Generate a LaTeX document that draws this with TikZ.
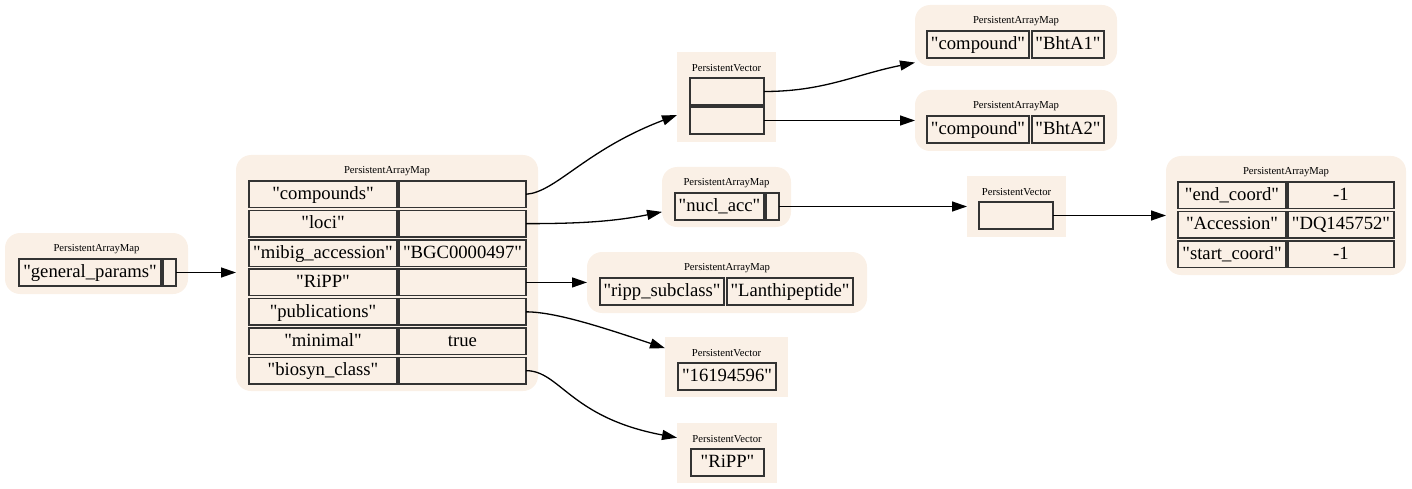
\documentclass[tikz,border=0pt]{standalone}
\usepackage{fontspec}
\setmainfont{Liberation Serif}[Ligatures=TeXOff]
\usetikzlibrary{arrows.meta}
\definecolor{linen}{HTML}{FAF0E6}
\newcommand{\cellt}[6]{\node[cell, minimum width={#4-#2}, minimum height={#5-#3}] (#1) at ({(#2+#4)/2},{(#3+#5)/2}) {#6};}
\newcommand{\pam}[5]{\node[mapbg, minimum width={#4-#2}, minimum height={#5-#3}] (#1) at ({(#2+#4)/2},{(#3+#5)/2}) {}; \node[tag] (#1-t) at ([yshift=-16.5pt]#1.north) {PersistentArrayMap};}
\newcommand{\pvec}[5]{\node[vecbg, minimum width={#4-#2}, minimum height={#5-#3}] (#1) at ({(#2+#4)/2},{(#3+#5)/2}) {}; \node[tag] (#1-t) at ([yshift=-16.5pt]#1.north) {PersistentVector};}

\begin{document}
\begin{tikzpicture}[x=1pt, y=-1pt,
    cell/.style={draw=black!80, line width=1.5pt, fill=linen, inner sep=0pt, outer sep=0pt, text height=14pt, text depth=3.5pt, font=\fontsize{18.67}{20}\selectfont},
    mapbg/.style={fill=linen, rounded corners=15pt, inner sep=0pt, outer sep=0pt},
    vecbg/.style={fill=linen, inner sep=0pt, outer sep=0pt},
    tag/.style={font=\fontsize{10.67}{12}\selectfont, inner sep=0pt},
    edge/.style={-{Triangle[length=15pt,width=10pt]}, line width=1.3pt}]
        \useasboundingbox (0,0) rectangle (1412,489);
        % general params
        \pam{gp}{5}{233}{188}{294}
        \cellt{gpk}{19}{259}{161}{286}{"general\_params"}
        \cellt{gpv}{163}{259}{176}{286}{}
        % root map
        \pam{root}{236}{155}{538}{391}
        \cellt{r1k}{249}{181}{397}{207.5}{"compounds"}
        \cellt{r1v}{399}{181}{526}{207.5}{}
        \cellt{r2k}{249}{210.4}{397}{236.9}{"loci"}
        \cellt{r2v}{399}{210.4}{526}{236.9}{}
        \cellt{r3k}{249}{239.8}{397}{266.3}{"mibig\_accession"}
        \cellt{r3v}{399}{239.8}{526}{266.3}{"BGC0000497"}
        \cellt{r4k}{249}{269.2}{397}{295.7}{"RiPP"}
        \cellt{r4v}{399}{269.2}{526}{295.7}{}
        \cellt{r5k}{249}{298.6}{397}{325.1}{"publications"}
        \cellt{r5v}{399}{298.6}{526}{325.1}{}
        \cellt{r6k}{249}{328}{397}{354.5}{"minimal"}
        \cellt{r6v}{399}{328}{526}{354.5}{true}
        \cellt{r7k}{249}{357.4}{397}{383.9}{"biosyn\_class"}
        \cellt{r7v}{399}{357.4}{526}{383.9}{}
        % compounds
        \pvec{pvcomp}{677}{52}{776}{142}
        \cellt{pvc1}{690}{78}{764}{105}{}
        \cellt{pvc2}{690}{107}{764}{134}{}
        \pam{bht1}{915}{5}{1117}{66}
        \cellt{bht1k}{927}{31}{1029}{58}{"compound"}
        \cellt{bht1v}{1032}{31}{1104}{58}{"BhtA1"}
        \pam{bht2}{915}{90}{1117}{151}
        \cellt{bht2k}{927}{116}{1029}{143}{"compound"}
        \cellt{bht2v}{1032}{116}{1104}{143}{"BhtA2"}
        % loci
        \pam{nacc}{662}{167}{791}{227}
        \cellt{nacck}{675}{193}{764}{220}{"nucl\_acc"}
        \cellt{naccv}{766}{193}{779}{220}{}
        \pvec{pvloci}{967}{176}{1066}{237}
        \cellt{pvlc}{979}{202}{1053}{229}{}
        \pam{locmap}{1166}{156}{1406}{275}
        \cellt{l1k}{1178}{182}{1286}{208.5}{"end\_coord"}
        \cellt{l1v}{1288}{182}{1394}{208.5}{-1}
        \cellt{l2k}{1178}{211.4}{1286}{237.9}{"Accession"}
        \cellt{l2v}{1288}{211.4}{1394}{237.9}{"DQ145752"}
        \cellt{l3k}{1178}{240.8}{1286}{267.3}{"start\_coord"}
        \cellt{l3v}{1288}{240.8}{1394}{267.3}{-1}
        % ripp
        \pam{ripp}{587}{252}{867}{313}
        \cellt{rippk}{600}{278}{724}{305}{"ripp\_subclass"}
        \cellt{rippv}{727}{278}{853}{305}{"Lanthipeptide"}
        % publications, biosyn class
        \pvec{pvpub}{665}{337}{788}{397}
        \cellt{pubc}{678}{363}{776}{390}{"16194596"}
        \pvec{pvripp}{677}{423}{777}{483}
        \cellt{rippc}{691}{449}{764}{476}{"RiPP"}
        % edges
        \draw[edge] (gpv.east) -- (gpv.east -| root.west);
        \draw[edge] (r1v.east) .. controls +(30,-2) and +(-92,35) .. (pvcomp.200);
        \draw[edge] (r2v.east) .. controls +(50,0) and +(-50,10) .. (nacc.193);
        \draw[edge] (r4v.east) -- (r4v.east -| ripp.west);
        \draw[edge] (r5v.east) .. controls +(30,0) and +(-60,-20) .. (pvpub.163);
        \draw[edge] (r7v.east) .. controls +(34,0) and +(-107,-20) .. (pvripp.163);
        \draw[edge] (pvc1.east) .. controls +(60,0) and +(-60,12) .. (bht1.195);
        \draw[edge] (pvc2.east) -- (pvc2.east -| bht2.west);
        \draw[edge] (naccv.east) -- (naccv.east -| pvloci.west);
        \draw[edge] (pvlc.east) -- (pvlc.east -| locmap.west);
    \end{tikzpicture}
\end{document}
